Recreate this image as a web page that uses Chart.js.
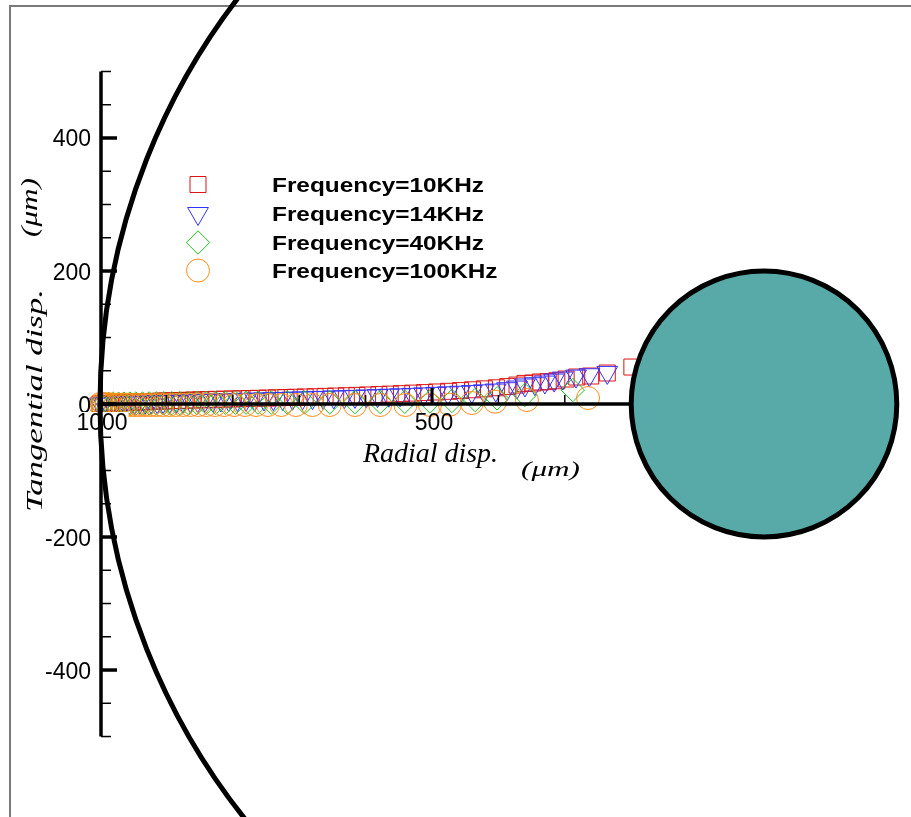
<!DOCTYPE html>
<html>
<head>
<meta charset="utf-8">
<title>Radial / Tangential disp.</title>
<script src="https://cdn.jsdelivr.net/npm/chart.js"></script>
<style>
html, body { margin: 0; padding: 0; background: #fff; }
.chart-container { position: relative; width: 911px; height: 817px; }
</style>
</head>
<body>
<div class="chart-container"><canvas id="myChart"></canvas></div>
<script>
// [radial disp., tangential disp.] in um
const freq10 = [[1000,0],[995,0.3],[990,0.6],[984,1],[978,1.3],[972,1.6],[965,2],[958,2.3],[951,2.6],[943,3],[935,3.3],[927,3.6],[918,4],[909,4.3],[900,4.6],[890,5],[880,5.3],[870,5.6],[859,6],[848,6.3],[837,6.6],[825,7],[813,7.3],[801,7.6],[788,8],[775,8.3],[762,8.6],[748,9],[734,9.4],[720,9.8],[706,10.2],[691,10.6],[676,11],[661,11.5],[645,12],[629,12.5],[613,13],[597,13.6],[580,14.2],[563,14.9],[546,15.6],[529,16.4],[511,17.2],[493,18.1],[475,19.1],[457,20.2],[439,21.4],[421,22.8],[403,24.4],[386,26.2],[372,28.5],[360,31],[348,31.6],[337,33.1],[325,33.6],[312,35],[298,37.6],[282,40.6],[261,42.1],[236,46.6],[199,55.6]];
const freq14 = [[1000,0],[995,0.2],[989,0.5],[983,0.8],[977,1],[970,1.3],[963,1.6],[956,1.9],[948,2.2],[940,2.5],[932,2.8],[923,3.1],[914,3.4],[905,3.7],[895,4],[885,4.3],[875,4.6],[864,4.9],[853,5.2],[842,5.5],[830,5.8],[818,6.1],[806,6.4],[793,6.7],[780,7],[767,7.3],[753,7.6],[739,8],[725,8.4],[710,8.8],[695,9.2],[680,9.6],[664,10],[648,10.5],[632,11],[616,11.5],[599,12],[582,12.6],[565,13.2],[548,13.8],[530,14.5],[512,15.2],[494,16],[476,16.8],[458,17.7],[440,18.7],[422,19.8],[404,21],[387,23],[372,25.5],[360,28.6],[345,30.5],[330,33],[316,36],[303,39],[283,42],[263,44],[236,47.5]];
const freq40 = [[1000,0],[994,0.1],[987,0.2],[980,0.3],[972,0.4],[964,0.5],[955,0.6],[946,0.7],[936,0.8],[926,0.9],[915,1],[904,1.1],[892,1.2],[880,1.3],[867,1.4],[854,1.5],[840,1.6],[826,1.7],[811,1.8],[796,1.9],[780,2],[762,2.1],[742,2.2],[718,2.3],[692,2.4],[654,2.6],[616,2.8],[578,3],[541,3.3],[503,3.8],[470,4.6],[435,6],[402,8.5],[360,13.5],[288,21]];
const freq100 = [[1000,0],[997,0],[994,-0.5],[990,-0.5],[986,-0.5],[982,-1],[977,-1],[972,-1],[966,-1],[960,-1],[954,-1.5],[947,-1.5],[940,-1.5],[932,-1.5],[924,-1.5],[915,-1.5],[906,-1.5],[896,-1.5],[886,-1.5],[875,-1.5],[864,-1.5],[852,-1.5],[840,-1.5],[827,-1.5],[813,-1.5],[798,-1.5],[782,-1.5],[765,-1.5],[747,-1.5],[727,-1.5],[705,-1.5],[680,-1.5],[654,-1.5],[616,-1.5],[578,-1.5],[540,-1.5],[503,-1.5],[473,-1],[440,1.5],[405,3.5],[357,6],[265,9]];

const seriesLabels = ['Frequency=10KHz', 'Frequency=14KHz', 'Frequency=40KHz', 'Frequency=100KHz'];
const yTickLabels = [400, 200, 0, -200, -400];
const xTickLabels = [1000, 500];
const outerRadius = 1000;   // big circle, um
const innerRadius = 200;    // filled circle, um

const colors = ['rgb(220,20,20)', 'rgb(50,50,255)', 'rgb(30,195,30)', 'rgb(255,140,25)'];
const styles = [
	{ pointStyle: 'rect', pointRadius: 11.3, pointRotation: 0 },
	{ pointStyle: 'triangle', pointRadius: 12, pointRotation: 180 },
	{ pointStyle: 'rectRot', pointRadius: 11.7, pointRotation: 0 },
	{ pointStyle: 'circle', pointRadius: 11.5, pointRotation: 0 }
];

function line(ctx, x1, y1, x2, y2) {
	ctx.beginPath(); ctx.moveTo(x1, y1); ctx.lineTo(x2, y2); ctx.stroke();
}
// draw text stretched to fit between x0 and x1
function fitText(ctx, txt, font, x0, x1, base) {
	ctx.font = font;
	const w = ctx.measureText(txt).width;
	ctx.save();
	ctx.translate(x0, base);
	ctx.scale((x1 - x0) / w, 1);
	ctx.textAlign = 'left'; ctx.textBaseline = 'alphabetic';
	ctx.fillText(txt, 0, 0);
	ctx.restore();
}
function fitTextUp(ctx, txt, font, baseX, yStart, yEnd) {
	ctx.font = font;
	const w = ctx.measureText(txt).width;
	ctx.save();
	ctx.translate(baseX, yStart);
	ctx.rotate(-Math.PI / 2);
	ctx.scale((yStart - yEnd) / w, 1);
	ctx.textAlign = 'left'; ctx.textBaseline = 'alphabetic';
	ctx.fillText(txt, 0, 0);
	ctx.restore();
}
function marker(ctx, style, x, y, r) {
	ctx.beginPath();
	if (style === 'rect') {
		const s = r * Math.SQRT1_2;
		ctx.rect(x - s, y - s, 2 * s, 2 * s);
	} else if (style === 'triangle') {
		ctx.moveTo(x, y + r);
		ctx.lineTo(x - r * Math.sin(Math.PI / 3), y - r / 2);
		ctx.lineTo(x + r * Math.sin(Math.PI / 3), y - r / 2);
		ctx.closePath();
	} else if (style === 'rectRot') {
		ctx.moveTo(x - r, y); ctx.lineTo(x, y - r); ctx.lineTo(x + r, y); ctx.lineTo(x, y + r);
		ctx.closePath();
	} else {
		ctx.arc(x, y, r, 0, Math.PI * 2);
	}
	ctx.stroke();
}

const decor = {
	id: 'decor',
	beforeDatasetsDraw(chart) {
		const ctx = chart.ctx;
		ctx.save();
		ctx.fillStyle = '#fff';
		ctx.fillRect(0, 0, chart.width, chart.height);
		ctx.strokeStyle = '#7a7a7a';
		ctx.lineWidth = 2;
		ctx.beginPath();
		ctx.moveTo(10, chart.height); ctx.lineTo(10, 6); ctx.lineTo(chart.width, 6);
		ctx.stroke();
		ctx.restore();
	},
	afterDatasetsDraw(chart) {
		const ctx = chart.ctx;
		const xs = chart.scales.x, ys = chart.scales.y;
		const px = v => xs.getPixelForValue(v);
		const py = v => ys.getPixelForValue(v);
		ctx.save();
		ctx.strokeStyle = '#000';
		ctx.fillStyle = '#000';

		// vertical axis at radial = 1000
		const ax = px(1000) + 1;
		ctx.lineWidth = 3.5;
		line(ctx, ax, py(500), ax, py(-500));
		for (let v = -500; v <= 500; v += 50) {
			const major = yTickLabels.includes(v);
			ctx.lineWidth = major ? 3.5 : 1.5;
			line(ctx, ax, py(v), ax + (major ? 16 : 10), py(v));
		}
		// horizontal axis at tangential = 0
		const ay = py(0);
		ctx.lineWidth = 3.5;
		line(ctx, px(1000), ay, px(innerRadius), ay);
		for (let v = 900; v >= innerRadius; v -= 100) {
			const major = xTickLabels.includes(v);
			ctx.lineWidth = major ? 3 : 1.5;
			line(ctx, px(v), ay, px(v), ay - (major ? 16 : 9));
		}

		// tick labels
		ctx.font = '23px "Liberation Sans", Arial, sans-serif';
		ctx.textAlign = 'right';
		ctx.textBaseline = 'alphabetic';
		yTickLabels.forEach(v => ctx.fillText(String(v), 91, py(v) + 8.5));
		ctx.textAlign = 'center';
		xTickLabels.forEach(v => {
			const tx = px(v) + 2;
			const w = ctx.measureText(String(v)).width;
			if (v === 1000) {
				ctx.fillStyle = '#fff';
				ctx.fillRect(tx - w / 2 - 1, ay + 8, w + 2, 22);
				ctx.fillStyle = '#000';
			}
			ctx.fillText(String(v), tx, 429.5);
		});

		// outer circle (radius 1000 um)
		ctx.lineWidth = 5;
		ctx.beginPath();
		ctx.ellipse(px(0), py(0), Math.abs(px(0) - px(outerRadius)), Math.abs(py(outerRadius) - py(0)), 0, 0, Math.PI * 2);
		ctx.stroke();
		// inner filled circle (radius 200 um)
		ctx.beginPath();
		ctx.ellipse(px(0), py(0), Math.abs(px(0) - px(innerRadius)), Math.abs(py(innerRadius) - py(0)), 0, 0, Math.PI * 2);
		ctx.fillStyle = '#57aaa8';
		ctx.fill();
		ctx.stroke();

		// axis titles
		ctx.fillStyle = '#000';
		fitText(ctx, 'Radial disp.', 'italic 28px "Liberation Serif", "Times New Roman", serif', 363, 498, 462);
		fitText(ctx, '(\u03bcm)', 'italic 21px "Liberation Serif", "Times New Roman", serif', 521, 580, 476);
		fitTextUp(ctx, 'Tangential disp.', 'italic 23px "Liberation Serif", "Times New Roman", serif', 42, 512, 289);
		fitTextUp(ctx, '(\u03bcm)', 'italic 23px "Liberation Serif", "Times New Roman", serif', 37, 237, 178);

		// legend
		const rowY = [184.5, 213.5, 242.5, 270.5];
		const legendFont = 'bold 21px "Liberation Sans", Arial, sans-serif';
		ctx.font = legendFont;
		const sx = 212 / ctx.measureText(seriesLabels[0]).width;
		seriesLabels.forEach((lab, i) => {
			ctx.strokeStyle = colors[i];
			ctx.lineWidth = 1;
			marker(ctx, styles[i].pointStyle, 198, rowY[i], styles[i].pointRadius);
			ctx.fillStyle = '#000';
			ctx.font = legendFont;
			const w = ctx.measureText(lab).width;
			fitText(ctx, lab, legendFont, 272, 272 + w * sx, rowY[i] + 7.5);
		});
		ctx.restore();
	}
};

const seriesData = [freq10, freq14, freq40, freq100];
const ctx = document.getElementById('myChart').getContext('2d');
const chart = new Chart(ctx, {
	type: 'scatter',
	data: {
		datasets: seriesData.map((d, i) => ({
			label: seriesLabels[i],
			data: d.map(p => ({ x: p[0], y: p[1] })),
			showLine: false,
			pointStyle: styles[i].pointStyle,
			pointRadius: styles[i].pointRadius,
			pointRotation: styles[i].pointRotation,
			pointBorderWidth: 1,
			borderColor: colors[i],
			backgroundColor: 'rgba(0,0,0,0)',
			order: 3 - i
		}))
	},
	options: {
		responsive: true,
		maintainAspectRatio: false,
		animation: false,
		events: [],
		layout: { padding: 0, autoPadding: false },
		plugins: { legend: { display: false }, tooltip: { enabled: false } },
		scales: {
			x: { type: 'linear', reverse: true, min: -221.4, max: 1150.6, display: false },
			y: { type: 'linear', min: -621, max: 607.5, display: false }
		}
	},
	plugins: [decor]
});
</script>
</body>
</html>
